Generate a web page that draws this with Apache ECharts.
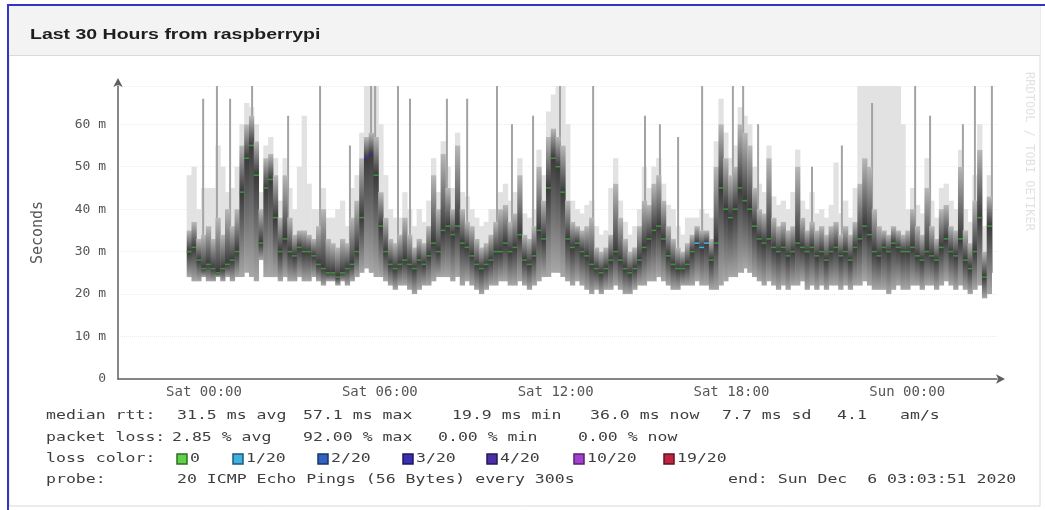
<!DOCTYPE html>
<html>
<head>
<meta charset="utf-8">
<title>Last 30 Hours from raspberrypi</title>
<script src="https://cdn.jsdelivr.net/npm/echarts@6/dist/echarts.min.js"></script>
<style>
  html, body { margin: 0; padding: 0; background: #ffffff; }
  #chart { width: 1045px; height: 510px; filter: blur(0.4px); }
</style>
</head>
<body>
<div id="chart"></div>
<script>
// x axis is hours counted from Sat 00:00, window is the last 30 h up to Sun 03:03:51
var xMin = -2.936
var xMax = 27.064
var xTickHours = [0, 6, 12, 18, 24]
var xTickLabels = ['Sat 00:00', 'Sat 06:00', 'Sat 12:00', 'Sat 18:00', 'Sun 00:00']
var yTicks = [0, 10, 20, 30, 40, 50, 60]

// one smoke column every ~10 min, first one at Fri 23:30
var firstHour = -0.51
var stepHours = 0.1635

// rtt in ms: bottom of smoke, median, top of dense smoke, top of faint smoke
var rttLow = [
  24, 23, 23, 24, 23, 23, 24, 23, 24, 23, 24, 24, 25, 24, 23, 28, 24, 24, 24, 23,
  24, 23, 23, 24, 23, 23, 24, 23, 22, 23, 23, 22, 23, 22, 23, 24, 25, 26, 25, 24,
  24, 23, 22, 21, 22, 22, 21, 20, 21, 22, 22, 23, 24, 24, 24, 23, 24, 22, 23, 22,
  21, 20, 21, 22, 22, 23, 23, 22, 22, 23, 22, 21, 22, 23, 24, 24, 25, 25, 24, 23,
  22, 23, 22, 21, 20, 21, 20, 21, 21, 22, 21, 20, 20, 21, 22, 22, 23, 23, 24, 23,
  22, 21, 21, 22, 22, 22, 23, 22, 22, 21, 21, 22, 23, 24, 24, 25, 26, 25, 24, 23,
  22, 23, 22, 21, 22, 21, 22, 22, 23, 21, 22, 21, 22, 21, 22, 22, 21, 22, 21, 22,
  22, 23, 22, 21, 21, 21, 20, 21, 22, 21, 21, 22, 22, 21, 22, 22, 21, 22, 23, 22,
  21, 22, 21, 20, 21, 22, 19, 20
]
var rttMedian = [
  30, 31, 28, 26, 27, 26, 25, 26, 27, 28, 30, 44, 52, 55, 48, 32, 45, 47, 38, 30,
  33, 30, 29, 31, 30, 30, 29, 27, 26, 25, 25, 24, 25, 26, 27, 30, 38, 52, 53, 48,
  36, 30, 27, 26, 27, 28, 27, 26, 28, 27, 29, 32, 30, 35, 36, 34, 36, 32, 31, 29,
  27, 26, 27, 28, 30, 30, 32, 30, 31, 34, 28, 27, 29, 35, 33, 45, 52, 50, 44, 33,
  31, 32, 30, 29, 27, 26, 25, 26, 28, 30, 28, 26, 25, 26, 28, 31, 33, 35, 36, 33,
  29, 27, 26, 26, 27, 30, 32, 31, 32, 28, 32, 45, 40, 38, 40, 45, 42, 40, 36, 33,
  32, 33, 31, 30, 31, 29, 30, 32, 31, 30, 31, 29, 30, 28, 30, 31, 29, 30, 28, 31,
  33, 36, 34, 30, 29, 31, 30, 32, 31, 30, 30, 31, 29, 28, 30, 29, 28, 31, 33, 30,
  29, 33, 28, 26, 30, 38, 24, 36
]
var rttHigh = [
  35, 37, 33, 34, 36, 33, 38, 34, 40, 36, 40, 55, 60, 62, 56, 40, 52, 53, 48, 38,
  48, 38, 34, 35, 35, 34, 33, 36, 40, 33, 32, 31, 33, 32, 38, 42, 52, 57, 58, 57,
  44, 38, 33, 32, 34, 38, 34, 31, 33, 32, 36, 48, 40, 53, 45, 40, 55, 40, 37, 36,
  33, 31, 32, 34, 37, 40, 41, 37, 39, 48, 34, 33, 36, 50, 42, 57, 59, 57, 55, 42,
  37, 36, 35, 36, 38, 31, 30, 31, 34, 46, 38, 33, 30, 31, 36, 42, 41, 46, 48, 42,
  36, 33, 31, 30, 32, 34, 36, 35, 35, 33, 50, 60, 52, 48, 50, 60, 58, 55, 45, 40,
  39, 52, 38, 36, 37, 35, 36, 50, 38, 35, 37, 35, 36, 34, 36, 37, 34, 36, 34, 37,
  46, 52, 50, 40, 36, 35, 34, 36, 35, 34, 35, 40, 36, 34, 45, 36, 33, 40, 41, 36,
  35, 50, 35, 32, 42, 54, 30, 43
]
var rttPeak = [
  48, 50, 40, 45, 45, 45, 55, 50, 44, 45, 50, 60, 65, 64, 60, 44, 55, 57, 52, 42,
  52, 45, 40, 50, 62, 46, 40, 40, 45, 38, 38, 40, 42, 36, 45, 48, 58, 69, 69, 69,
  60, 48, 40, 38, 38, 44, 40, 36, 40, 37, 42, 52, 44, 56, 50, 45, 58, 44, 43, 40,
  38, 36, 37, 40, 40, 44, 46, 42, 44, 52, 39, 38, 40, 54, 48, 63, 67, 69, 69, 60,
  42, 40, 39, 41, 42, 36, 34, 35, 45, 52, 42, 37, 34, 36, 40, 50, 45, 50, 52, 46,
  41, 40, 36, 34, 38, 38, 38, 40, 39, 38, 56, 66, 58, 52, 55, 64, 62, 60, 50, 46,
  44, 55, 43, 41, 42, 40, 44, 54, 42, 40, 44, 39, 40, 38, 41, 51, 39, 42, 38, 45,
  69, 69, 69, 69, 69, 69, 69, 69, 69, 60, 40, 45, 41, 39, 52, 42, 38, 45, 46, 42,
  40, 54, 40, 37, 48, 60, 36, 48
]

// columns whose median was drawn with a loss colour (index into lossLabels)
var lossColumns = [37, 38, 106, 107, 108]
var lossLevels = [3, 3, 1, 1, 1]

// single outlier pings that shoot up towards the top of the graph
var spikeHours = [
  -0.03, 0.44, 0.89, 1.64, 2.87, 3.96, 4.98, 5.70, 5.84, 6.62, 7.03, 8.29, 8.98,
  10.00, 10.51, 11.23, 12.15, 13.28, 15.05, 15.56, 16.18, 17.00, 18.05, 18.40,
  18.91, 20.75, 21.77, 22.80, 24.27, 24.78, 25.90, 26.31, 26.89
]
var spikeTops = [
  66, 69, 66, 69, 62, 69, 55, 69, 69, 69, 66, 66, 66,
  69, 60, 62, 69, 69, 62, 60, 57, 69, 69, 69,
  60, 50, 55, 65, 69, 62, 60, 69, 69
]

var lossLabels = ['0', '1/20', '2/20', '3/20', '4/20', '10/20', '19/20']
var rttStats = ['31.5 ms avg', '57.1 ms max', '19.9 ms min', '36.0 ms now', '7.7 ms sd', '4.1', 'am/s']
var lossStats = ['2.85 % avg', '92.00 % max', '0.00 % min', '0.00 % now']
var probeText = '20 ICMP Echo Pings (56 Bytes) every 300s'
var endText = 'end: Sun Dec  6 03:03:51 2020'

var lossFill = ['#5fd24a', '#3fb2e2', '#2f62c2', '#3a2fae', '#4c2ea6', '#a23fcf', '#bf233d']
var lossEdge = ['#2e6e26', '#1d5a7a', '#1a356a', '#20185e', '#26185a', '#57206f', '#641220']
var medianGreen = '#3f9040'

var smokeData = []
for (var i = 0; i < rttLow.length; i++) {
  var li = lossColumns.indexOf(i)
  smokeData.push([firstHour + i * stepHours, rttLow[i], rttMedian[i], rttHigh[i], rttPeak[i], li > -1 ? lossLevels[li] : 0])
}
var spikeData = spikeHours.map(function(h, k) { return [h, spikeTops[k]] })

function renderHaze(params, api) {
  var t = api.value(0)
  var hi = api.coord([t, api.value(3)])
  var pk = api.coord([t, api.value(4)])
  var w = api.size([stepHours, 0])[0]
  return {
    type: 'rect',
    shape: { x: hi[0] - w / 2, y: pk[1], width: w + 0.5, height: hi[1] - pk[1] },
    style: { fill: '#e2e2e2' }
  }
}

function renderSpike(params, api) {
  var t = api.value(0)
  var top = api.coord([t, api.value(1)])
  var base = api.coord([t, 25])
  return {
    type: 'rect',
    shape: { x: top[0] - 1, y: top[1], width: 2, height: base[1] - top[1] },
    style: { fill: '#a3a3a3' }
  }
}

function renderCore(params, api) {
  var t = api.value(0)
  var lo = api.coord([t, api.value(1)])
  var md = api.coord([t, api.value(2)])
  var hi = api.coord([t, api.value(3)])
  var w = api.size([stepHours, 0])[0]
  var h = lo[1] - hi[1]
  var f = Math.max(0.02, Math.min(0.98, (md[1] - hi[1]) / h))
  var lvl = api.value(5)
  return {
    type: 'group',
    children: [
      {
        type: 'rect',
        shape: { x: lo[0] - w / 2, y: hi[1], width: w + 0.5, height: h },
        style: {
          fill: new echarts.graphic.LinearGradient(0, 0, 0, 1, [
            { offset: 0, color: '#b9b9b9' },
            { offset: f, color: '#3a3a3a' },
            { offset: 1, color: '#a8a8a8' }
          ])
        }
      },
      {
        type: 'rect',
        shape: { x: md[0] - w / 2, y: md[1] - 0.8, width: w + 0.5, height: 1.6 },
        style: { fill: lvl ? lossFill[lvl] : medianGreen }
      }
    ]
  }
}

var monoFont = '"DejaVu Sans Mono", "Liberation Mono", monospace'
var textGrey = '#3e3e3e'

// legend block under the graph, drawn as text widened like the original
function legendText(x, y, s) {
  return {
    type: 'text', x: x, y: y, scaleX: 1.27, z: 10,
    style: { text: s, fill: textGrey, font: '13px ' + monoFont, verticalAlign: 'middle' }
  }
}

var graphics = [
  { type: 'rect', z: 0, shape: { x: 9, y: 6, width: 1031, height: 500 }, style: { fill: '#ffffff', stroke: '#d8d8d8', lineWidth: 1 } },
  { type: 'rect', z: 0, shape: { x: 9, y: 6, width: 1031, height: 49 }, style: { fill: '#f3f3f3' } },
  { type: 'rect', z: 0, shape: { x: 9, y: 55, width: 1031, height: 1 }, style: { fill: '#dadada' } },
  { type: 'rect', z: 11, shape: { x: 7, y: 4, width: 1038, height: 2 }, style: { fill: '#3434c6' } },
  { type: 'rect', z: 11, shape: { x: 7, y: 4, width: 2, height: 506 }, style: { fill: '#3434c6' } },
  {
    type: 'text', x: 30, y: 35, scaleX: 1.3, z: 10,
    style: { text: 'Last 30 Hours from raspberrypi', fill: '#1e1e1e', font: 'bold 15px "Liberation Sans", Arial, sans-serif', verticalAlign: 'middle' }
  },
  {
    type: 'text', x: 1029, y: 72, rotation: -Math.PI / 2, z: 10,
    style: { text: 'RRDTOOL / TOBI OETIKER', fill: '#e2e2e2', font: '12px ' + monoFont, verticalAlign: 'middle' }
  }
]

var rttX = [177, 303, 452, 590, 722, 837, 900]
var lossX = [172, 303, 438, 578]
var boxX = [177, 233, 318, 403, 487, 574, 664]
var rowY = [416, 437.5, 459, 480]

graphics.push(legendText(46, rowY[0], 'median rtt:'))
rttStats.forEach(function(s, k) { graphics.push(legendText(rttX[k], rowY[0], s)) })
graphics.push(legendText(46, rowY[1], 'packet loss:'))
lossStats.forEach(function(s, k) { graphics.push(legendText(lossX[k], rowY[1], s)) })
graphics.push(legendText(46, rowY[2], 'loss color:'))
lossLabels.forEach(function(s, k) {
  graphics.push({
    type: 'rect', z: 10,
    shape: { x: boxX[k], y: rowY[2] - 5, width: 10, height: 10 },
    style: { fill: lossFill[k], stroke: lossEdge[k], lineWidth: 1.5 }
  })
  graphics.push(legendText(boxX[k] + 13, rowY[2], s))
})
graphics.push(legendText(46, rowY[3], 'probe:'))
graphics.push(legendText(177, rowY[3], probeText))
graphics.push(legendText(728, rowY[3], endText))

var myChart = echarts.init(document.getElementById('chart'), null, { renderer: 'canvas' })
var option = {
  backgroundColor: '#ffffff',
  animation: false,
  grid: { left: 118, right: 48, top: 86, bottom: 131 },
  graphic: graphics,
  xAxis: {
    type: 'value',
    min: xMin,
    max: xMax,
    axisLine: {
      show: true,
      onZero: false,
      symbol: ['none', 'arrow'],
      symbolSize: [7, 9],
      symbolOffset: [0, 8],
      lineStyle: { color: '#5f5f5f', width: 1.5 }
    },
    axisTick: { show: false },
    axisLabel: {
      customValues: xTickHours,
      formatter: function(v) {
        var k = xTickHours.indexOf(v)
        return k > -1 ? xTickLabels[k] : ''
      },
      color: '#555555',
      fontFamily: 'DejaVu Sans Mono',
      fontSize: 14,
      margin: 6
    },
    splitLine: { show: false }
  },
  yAxis: {
    type: 'value',
    min: 0,
    max: 69,
    interval: 10,
    name: 'Seconds',
    nameLocation: 'middle',
    nameGap: 72,
    nameRotate: 90,
    nameTextStyle: { color: '#555555', fontFamily: 'DejaVu Sans Mono', fontSize: 15 },
    axisLine: {
      show: true,
      onZero: false,
      symbol: ['none', 'arrow'],
      symbolSize: [7, 9],
      symbolOffset: [0, 8],
      lineStyle: { color: '#5f5f5f', width: 1.5 }
    },
    axisTick: { show: false },
    axisLabel: {
      showMaxLabel: false,
      formatter: function(v) {
        if (yTicks.indexOf(v) < 0) return ''
        return v === 0 ? '0' : v + ' m'
      },
      color: '#555555',
      fontFamily: 'DejaVu Sans Mono',
      fontSize: 13,
      margin: 12
    },
    splitLine: { show: true, lineStyle: { color: '#ececec', type: 'dotted' } }
  },
  series: [
    {
      type: 'custom',
      name: 'haze',
      renderItem: renderHaze,
      clip: true,
      encode: { x: 0, y: [1, 4] },
      data: smokeData
    },
    {
      type: 'custom',
      name: 'spikes',
      renderItem: renderSpike,
      clip: true,
      encode: { x: 0, y: 1 },
      data: spikeData
    },
    {
      type: 'custom',
      name: 'smoke',
      renderItem: renderCore,
      clip: true,
      encode: { x: 0, y: [1, 3] },
      data: smokeData
    }
  ]
}
myChart.setOption(option, true)
window.addEventListener('resize', () => {
  myChart.resize()
})
</script>
</body>
</html>
